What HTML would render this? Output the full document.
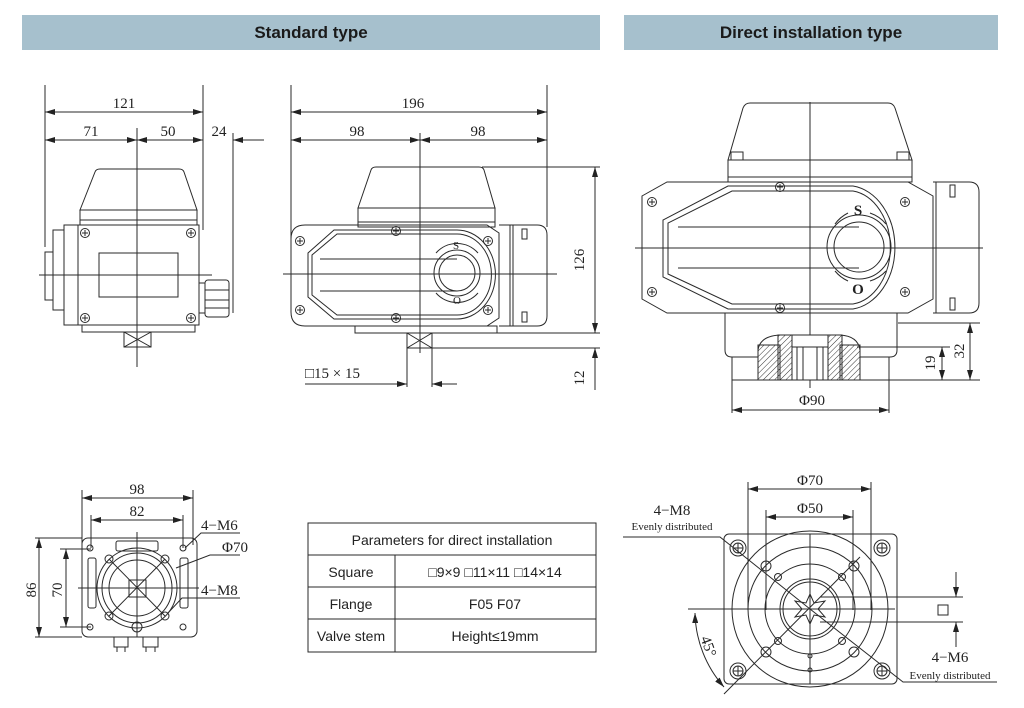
<!DOCTYPE html>
<html><head><meta charset="utf-8"><style>
html,body{margin:0;padding:0;background:#fff;}
svg{display:block}
.s{fill:none;stroke:#2a2a2a;stroke-width:1}
.t{font-family:"Liberation Serif",serif;font-size:15px;fill:#222}
.ts{font-family:"Liberation Serif",serif;font-size:11px;fill:#222}
.h{font-family:"Liberation Sans",sans-serif;font-size:17px;font-weight:bold;fill:#1a1a1a}
.tb{font-family:"Liberation Sans",sans-serif;font-size:14px;fill:#222}
</style></head><body>
<svg width="1024" height="708" viewBox="0 0 1024 708" xmlns="http://www.w3.org/2000/svg">
<defs>
<marker id="a" viewBox="0 0 10 6" refX="10" refY="3" markerWidth="10" markerHeight="6" orient="auto-start-reverse" markerUnits="userSpaceOnUse"><path d="M0,0 L10,3 L0,6z" fill="#222"/></marker>
<pattern id="hatch" width="4" height="4" patternUnits="userSpaceOnUse" patternTransform="rotate(45)"><line x1="0" y1="0" x2="0" y2="4" stroke="#333" stroke-width="1"/></pattern>
<g id="scr"><circle r="4.5" class="s"/><path d="M-3,0H3M0,-3V3" class="s"/></g>
</defs>
<rect x="22" y="15" width="578" height="35" fill="#a6c0cd"/>
<rect x="624" y="15" width="374" height="35" fill="#a6c0cd"/>
<text x="311" y="38" text-anchor="middle" class="h">Standard type</text>
<text x="811" y="38" text-anchor="middle" class="h">Direct installation type</text>

<!-- LEFT SIDE VIEW -->
<g class="s">
<path d="M45,85V247M203,85V230M233,133V313"/>
<line x1="45" y1="112" x2="203" y2="112" marker-start="url(#a)" marker-end="url(#a)"/>
<line x1="45" y1="140" x2="137" y2="140" marker-start="url(#a)" marker-end="url(#a)"/>
<line x1="137" y1="140" x2="203" y2="140" marker-start="url(#a)" marker-end="url(#a)"/>
<line x1="264" y1="140" x2="233" y2="140" marker-end="url(#a)"/>
<path d="M80,210 L95,172 Q96,169 100,169 L179,169 Q183,169 184,172 L197,210 Z"/>
<rect x="80" y="210" width="117" height="15"/><line x1="80" y1="220" x2="197" y2="220"/>
<rect x="78" y="225" width="121" height="100"/>
<rect x="64" y="225" width="14" height="100"/>
<rect x="53" y="230" width="11" height="80"/>
<rect x="45" y="252" width="8" height="48"/>
<rect x="99" y="253" width="79" height="44"/>
<rect x="82" y="325" width="113" height="7"/>
<rect x="124" y="332" width="27" height="15"/><path d="M124,332L151,347M151,332L124,347"/>
<path d="M137,128V367M39,275H212"/>
<rect x="199" y="283" width="6" height="30"/>
<rect x="205" y="280" width="24" height="37" rx="3"/>
<path d="M205,290H229M205,300H229M205,308H229"/>
</g>
<use href="#scr" x="85" y="233"/><use href="#scr" x="191" y="233"/><use href="#scr" x="85" y="318"/><use href="#scr" x="191" y="318"/>
<text x="124" y="108" text-anchor="middle" class="t">121</text>
<text x="91" y="136" text-anchor="middle" class="t">71</text>
<text x="168" y="136" text-anchor="middle" class="t">50</text>
<text x="219" y="136" text-anchor="middle" class="t">24</text>

<!-- FRONT VIEW -->
<g class="s">
<path d="M291,85V240M547,85V227M420,133V353"/>
<line x1="291" y1="112" x2="547" y2="112" marker-start="url(#a)" marker-end="url(#a)"/>
<line x1="291" y1="140" x2="420" y2="140" marker-start="url(#a)" marker-end="url(#a)"/>
<line x1="420" y1="140" x2="547" y2="140" marker-start="url(#a)" marker-end="url(#a)"/>
<path d="M358,208 L371,170 Q372,167 376,167 L479,167 Q483,167 484,170 L495,208 Z"/>
<rect x="358" y="208" width="137" height="19"/><line x1="358" y1="222" x2="495" y2="222"/>
<path d="M305,225 H487 L499,233 V318 L487,326 H305 Q291,326 291,312 V239 Q291,225 305,225 Z"/>
<path d="M499,225 H537 Q547,225 547,235 V316 Q547,326 537,326 H499"/>
<path d="M510,225V326M513,225V326"/>
<rect x="522" y="229" width="5" height="10"/><rect x="522" y="312" width="5" height="10"/>
<path d="M334,230 H457 A38,44 0 0 1 457,319 H334 L308,297 V253 Z"/>
<path d="M337,234 H457 A34,40 0 0 1 457,315 H337 L312,295 V255 Z"/>
<circle cx="457" cy="273" r="23"/><circle cx="457" cy="273" r="18"/>
<path d="M320,259H457M320,291H457M283,274H557"/>
<path d="M436,253 A28,28 0 0 1 478,253M436,293 A28,28 0 0 0 478,293"/>
<rect x="355" y="326" width="142" height="7"/>
<rect x="407" y="333" width="25" height="15"/><path d="M407,333L432,348M432,333L407,348"/>
<path d="M482,167H600M497,333H600M432,348H600M407,348V387M432,348V387"/>
<line x1="595" y1="167" x2="595" y2="333" marker-start="url(#a)" marker-end="url(#a)"/>
<line x1="595" y1="390" x2="595" y2="348" marker-end="url(#a)"/>
<line x1="305" y1="384" x2="407" y2="384" marker-end="url(#a)"/>
<line x1="457" y1="384" x2="432" y2="384" marker-end="url(#a)"/>
</g>
<use href="#scr" x="300" y="241"/><use href="#scr" x="300" y="310"/><use href="#scr" x="488" y="241"/><use href="#scr" x="488" y="310"/><use href="#scr" x="396" y="231"/><use href="#scr" x="396" y="318"/>
<text x="453" y="249" class="ts" font-size="9">S</text><text x="453" y="304" class="ts" font-size="9">O</text>
<text x="413" y="108" text-anchor="middle" class="t">196</text>
<text x="357" y="136" text-anchor="middle" class="t">98</text>
<text x="478" y="136" text-anchor="middle" class="t">98</text>
<text transform="translate(584,260) rotate(-90)" text-anchor="middle" class="t">126</text>
<text transform="translate(584,378) rotate(-90)" text-anchor="middle" class="t">12</text>
<text x="305" y="378" class="t">□15 × 15</text>

<!-- DIRECT INSTALL SIDE -->
<g class="s">
<path d="M728,160 L743,108 Q745,103 750,103 L888,103 Q893,103 895,108 L912,160 Z"/>
<rect x="728" y="160" width="184" height="22"/><line x1="728" y1="177" x2="912" y2="177"/>
<rect x="731" y="152" width="12" height="8"/><rect x="897" y="152" width="12" height="8"/>
<path d="M667,182 H908 L933,196 V299 L908,313 H667 L642,299 V196 Z"/>
<path d="M933,182 H969 Q979,182 979,192 V303 Q979,313 969,313 H933"/>
<path d="M936,182V313"/>
<rect x="950" y="185" width="5" height="12"/><rect x="950" y="298" width="5" height="12"/>
<path d="M728,186 H853 A48,62 0 0 1 853,309 H728 L663,277 V220 Z"/>
<path d="M732,191 H853 A43,57 0 0 1 853,304 H732 L668,274 V223 Z"/>
<circle cx="859" cy="247" r="32"/><circle cx="859" cy="247" r="25"/>
<path d="M678,227H859M678,268H859M635,248H983M810,102V388"/>
<path d="M835,224 A36,36 0 0 1 848,213M870,213 A36,36 0 0 1 886,224M835,271 A36,36 0 0 0 848,281M870,281 A36,36 0 0 0 886,271"/>
<path d="M725,313 V350 Q725,357 732,357 H890 Q897,357 897,350 V313"/>
<rect x="732" y="357" width="157" height="23"/>
<path d="M758,380 V350 Q760,336 780,335 H840 Q858,336 860,350 V380 Z" fill="#fff"/>
<rect x="758" y="345" width="22" height="35" fill="url(#hatch)" stroke="#2a2a2a"/>
<rect x="840" y="345" width="20" height="35" fill="url(#hatch)" stroke="#2a2a2a"/>
<rect x="778" y="335" width="14" height="45" fill="url(#hatch)" stroke="#2a2a2a"/>
<rect x="828" y="335" width="14" height="45" fill="url(#hatch)" stroke="#2a2a2a"/>
<path d="M792,347H828M797,347V380M803,347V380M817,347V380M823,347V380"/>
<path d="M898,323H980M857,347H950M889,380H980M732,380V413M889,380V413"/>
<line x1="942" y1="347" x2="942" y2="380" marker-start="url(#a)" marker-end="url(#a)"/>
<line x1="970" y1="323" x2="970" y2="380" marker-start="url(#a)" marker-end="url(#a)"/>
<line x1="732" y1="410" x2="889" y2="410" marker-start="url(#a)" marker-end="url(#a)"/>
</g>
<use href="#scr" x="652" y="202"/><use href="#scr" x="652" y="292"/><use href="#scr" x="905" y="202"/><use href="#scr" x="905" y="292"/><use href="#scr" x="780" y="187"/><use href="#scr" x="780" y="308"/>
<text x="858" y="215" text-anchor="middle" class="t" font-weight="bold" font-size="16">S</text>
<text x="858" y="294" text-anchor="middle" class="t" font-weight="bold" font-size="16">O</text>
<text transform="translate(935,363) rotate(-90)" text-anchor="middle" class="t">19</text>
<text transform="translate(964,351) rotate(-90)" text-anchor="middle" class="t">32</text>
<text x="812" y="405" text-anchor="middle" class="t">Φ90</text>

<!-- BOTTOM LEFT -->
<g class="s">
<line x1="82" y1="498" x2="193" y2="498" marker-start="url(#a)" marker-end="url(#a)"/>
<line x1="91" y1="520" x2="183" y2="520" marker-start="url(#a)" marker-end="url(#a)"/>
<path d="M82,490V545M193,490V545M91,515V548M183,515V548"/>
<rect x="82" y="538" width="115" height="99" rx="6"/>
<path d="M35,538H82M60,549H91M35,637H82M60,627H91"/>
<line x1="39" y1="538" x2="39" y2="637" marker-start="url(#a)" marker-end="url(#a)"/>
<line x1="66" y1="549" x2="66" y2="627" marker-start="url(#a)" marker-end="url(#a)"/>
<rect x="116" y="541" width="42" height="10" rx="2"/>
<rect x="88" y="558" width="8" height="50" rx="2"/><rect x="180" y="558" width="8" height="50" rx="2"/>
<circle cx="137" cy="588" r="40"/><circle cx="137" cy="588" r="35"/><circle cx="137" cy="588" r="28"/>
<path d="M109,559L165,616M165,559L109,616"/>
<rect x="129" y="580" width="17" height="17"/>
<path d="M78,588H199M137,532V637"/>
<circle cx="90" cy="548" r="3"/><circle cx="183" cy="548" r="3"/><circle cx="90" cy="627" r="3"/><circle cx="183" cy="627" r="3"/>
<circle cx="109" cy="559" r="4"/><circle cx="165" cy="559" r="4"/><circle cx="109" cy="616" r="4"/><circle cx="165" cy="616" r="4"/>
<circle cx="137" cy="627" r="5"/>
<rect x="114" y="637" width="14" height="10"/><rect x="143" y="637" width="15" height="10"/>
<path d="M117,647V652M125,647V652M146,647V652M155,647V652"/>
<path d="M185,548L201,533H240M176,568L210,555H240M167,614L182,598H240"/>
</g>
<text x="137" y="494" text-anchor="middle" class="t">98</text>
<text x="137" y="516" text-anchor="middle" class="t">82</text>
<text transform="translate(36,590) rotate(-90)" text-anchor="middle" class="t">86</text>
<text transform="translate(62,590) rotate(-90)" text-anchor="middle" class="t">70</text>
<text x="201" y="530" class="t">4−M6</text>
<text x="222" y="552" class="t">Φ70</text>
<text x="201" y="595" class="t">4−M8</text>

<!-- TABLE -->
<g class="s">
<rect x="308" y="523" width="288" height="129"/>
<path d="M308,555H596M308,587H596M308,619H596M395,555V652"/>
</g>
<text x="452" y="545" text-anchor="middle" class="tb">Parameters for direct installation</text>
<text x="351" y="577" text-anchor="middle" class="tb">Square</text>
<text x="495" y="577" text-anchor="middle" class="tb">□9×9 □11×11 □14×14</text>
<text x="351" y="609" text-anchor="middle" class="tb">Flange</text>
<text x="495" y="609" text-anchor="middle" class="tb">F05   F07</text>
<text x="351" y="641" text-anchor="middle" class="tb">Valve stem</text>
<text x="495" y="641" text-anchor="middle" class="tb">Height≤19mm</text>

<!-- BOTTOM RIGHT -->
<g class="s">
<line x1="748" y1="489" x2="871" y2="489" marker-start="url(#a)" marker-end="url(#a)"/>
<line x1="766" y1="517" x2="853" y2="517" marker-start="url(#a)" marker-end="url(#a)"/>
<path d="M748,482V610M871,482V610M766,510V610M853,510V610"/>
<rect x="724" y="534" width="173" height="150" rx="5"/>
<circle cx="810" cy="609" r="78"/><circle cx="810" cy="609" r="62"/><circle cx="810" cy="609" r="45"/>
<circle cx="810" cy="609" r="30"/><circle cx="810" cy="609" r="27"/>
<path d="M810,594 L814,603 L825,601 L818,609 L825,617 L814,615 L810,624 L806,615 L795,617 L802,609 L795,601 L806,603 Z"/>
<path d="M688,609H895M810,534V684M623,537H720L810,609L903,682H997M724,694L860,557"/>
<path d="M820,597H963M820,622H963"/>
<line x1="956" y1="572" x2="956" y2="597" marker-end="url(#a)"/>
<line x1="956" y1="647" x2="956" y2="622" marker-end="url(#a)"/>
<rect x="938" y="605" width="10" height="10"/>
<path d="M695,613 A115,115 0 0 0 724,687" marker-start="url(#a)" marker-end="url(#a)"/>
<circle cx="738" cy="548" r="8"/><circle cx="738" cy="548" r="5"/><path d="M733,548H743M738,543V553"/>
<circle cx="882" cy="548" r="8"/><circle cx="882" cy="548" r="5"/><path d="M877,548H887M882,543V553"/>
<circle cx="738" cy="671" r="8"/><circle cx="738" cy="671" r="5"/><path d="M733,671H743M738,666V676"/>
<circle cx="882" cy="671" r="8"/><circle cx="882" cy="671" r="5"/><path d="M877,671H887M882,666V676"/>
<circle cx="766" cy="566" r="5"/><circle cx="854" cy="566" r="5"/><circle cx="766" cy="652" r="5"/><circle cx="854" cy="652" r="5"/>
<circle cx="778" cy="577" r="3.5"/><circle cx="842" cy="577" r="3.5"/><circle cx="778" cy="641" r="3.5"/><circle cx="842" cy="641" r="3.5"/>
<circle cx="810" cy="656" r="2"/><circle cx="810" cy="670" r="2"/>
</g>
<text x="810" y="485" text-anchor="middle" class="t">Φ70</text>
<text x="810" y="513" text-anchor="middle" class="t">Φ50</text>
<text x="672" y="515" text-anchor="middle" class="t">4−M8</text>
<text x="672" y="530" text-anchor="middle" class="ts">Evenly distributed</text>
<text x="950" y="662" text-anchor="middle" class="t">4−M6</text>
<text x="950" y="679" text-anchor="middle" class="ts">Evenly distributed</text>
<text transform="translate(704,648) rotate(70)" text-anchor="middle" class="t">45°</text>
</svg>
</body></html>
